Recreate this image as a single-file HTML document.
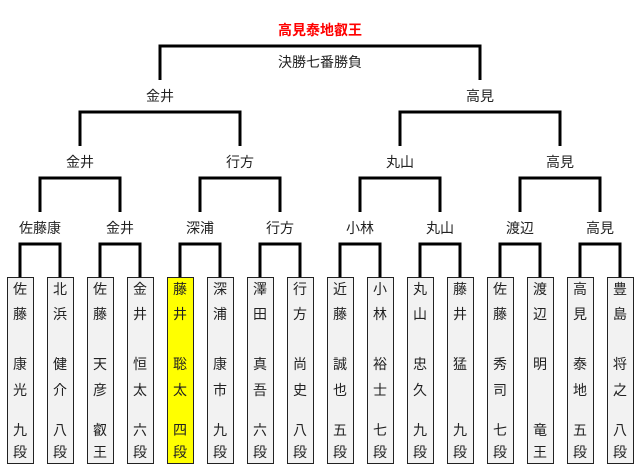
<!DOCTYPE html>
<html><head><meta charset="utf-8"><style>
body{margin:0;width:641px;height:473px;background:#fff;position:relative;overflow:hidden;font-family:"Liberation Sans","Noto Sans CJK JP",sans-serif;font-size:14px;color:#222}
.t{position:absolute;transform:translate(-50%,-50%);white-space:nowrap;line-height:1}
.b{position:absolute;top:277px;width:25px;height:185px;border:1px solid #222;background:#f2f2f2}
svg{position:absolute;left:0;top:0}
</style></head><body>
<svg width="641" height="473" fill="none" stroke="#000" stroke-width="3">
<path d="M160 80V46H480V80"/>
<path d="M80 146V112H240V146M400 146V112H560V146"/>
<path d="M40 212V178H120V212M200 212V178H280V212M360 212V178H440V212M520 212V178H600V212"/>
<path d="M20 277V244H60V277M100 277V244H140V277M180 277V244H220V277M260 277V244H300V277M340 277V244H380V277M420 277V244H460V277M500 277V244H540V277M580 277V244H620V277"/>
</svg>
<div class="t" style="left:320px;top:30px;color:#f00;font-weight:bold">高見泰地叡王</div>
<div class="t" style="left:320px;top:62px">決勝七番勝負</div>
<div class="t" style="left:160px;top:96px">金井</div>
<div class="t" style="left:480px;top:96px">高見</div>
<div class="t" style="left:80px;top:162px">金井</div>
<div class="t" style="left:240px;top:162px">行方</div>
<div class="t" style="left:400px;top:162px">丸山</div>
<div class="t" style="left:560px;top:162px">高見</div>
<div class="t" style="left:40px;top:228px">佐藤康</div>
<div class="t" style="left:120px;top:228px">金井</div>
<div class="t" style="left:200px;top:228px">深浦</div>
<div class="t" style="left:280px;top:228px">行方</div>
<div class="t" style="left:360px;top:228px">小林</div>
<div class="t" style="left:440px;top:228px">丸山</div>
<div class="t" style="left:520px;top:228px">渡辺</div>
<div class="t" style="left:600px;top:228px">高見</div>
<div id="boxes"></div>
<script>
var d=[["佐藤","康光","九段"],["北浜","健介","八段"],["佐藤","天彦","叡王"],["金井","恒太","六段"],["藤井","聡太","四段"],["深浦","康市","九段"],["澤田","真吾","六段"],["行方","尚史","八段"],["近藤","誠也","五段"],["小林","裕士","七段"],["丸山","忠久","九段"],["藤井","猛 ","九段"],["佐藤","秀司","七段"],["渡辺","明 ","竜王"],["高見","泰地","五段"],["豊島","将之","八段"]];
var ys=[289,314,364,390,430,452],h="";
d.forEach(function(p,i){var x=20+40*i;
h+='<div class="b" style="left:'+(x-13)+'px'+(i==4?';background:#ff0':'')+'"></div>';
var c=(p[0]+p[1]+p[2]).split("");
for(var k=0;k<6;k++){if(c[k]&&c[k]!=" ")h+='<div class="t" style="left:'+x+'px;top:'+ys[k]+'px">'+c[k]+'</div>';}
});
document.getElementById("boxes").innerHTML=h;
</script>
</body></html>
